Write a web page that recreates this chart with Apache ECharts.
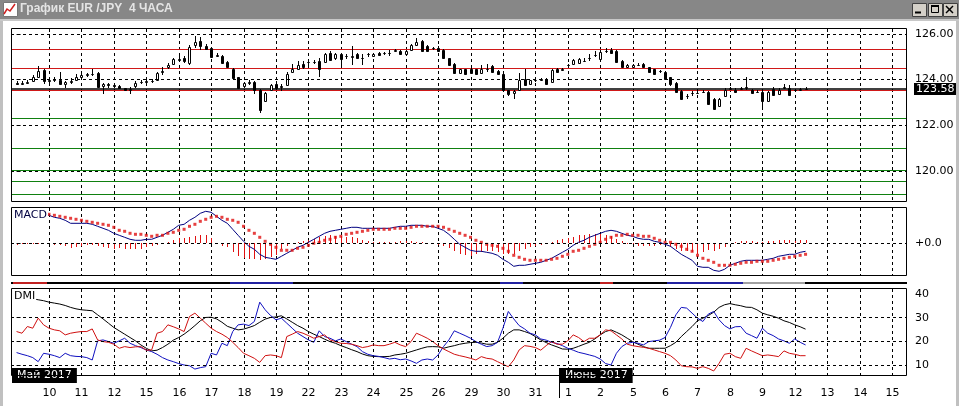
<!DOCTYPE html>
<html><head><meta charset="utf-8">
<script src="https://cdn.jsdelivr.net/npm/echarts@6/dist/echarts.min.js"></script>
<style>html,body{margin:0;padding:0;background:#fff;overflow:hidden}#c{width:959px;height:406px}</style>
</head><body><div id="c"></div>
<script>
// ---------- data ----------
const dayLabels = ['10','11','12','15','16','17','18','19','22','23','24','25','26','29','30','31','1','2','5','6','7','8','9','12','13','14','15'];
const dayStartIdx = [6,12,18,24,30,36,42,48,54,60,66,72,78,84,90,96,102,108,114,120,126,132,138,144,150,156,162];
const monthLabels = ['Май 2017','Июнь 2017'];
const monthIdx = [-0.85, 100.4];

const open = [123.84,123.82,123.86,123.95,124.12,124.42, 123.95,123.98,124.00,123.82,123.90,123.96, 124.12,124.20,124.22,124.30,123.70,123.80, 123.75,123.72,123.62,123.56,123.70,123.88, 123.90,123.92,123.97,124.32,124.55,124.70, 124.87,124.92,124.72,125.50,125.68,125.45, 125.36,125.05,125.02,124.78,124.48,124.10, 123.70,123.86,123.90,123.56,123.06,123.56, 123.82,123.66,123.75,124.35,124.48,124.70, 124.75,124.75,124.82,124.78,125.14,124.92, 125.11,125.03,125.00,125.11,124.93,125.10, 125.03,125.17,125.14,125.17,125.26,125.26, 125.11,125.30,125.51,125.70,125.45,125.36, 125.40,125.29,124.92,124.70,124.29,124.44, 124.48,124.44,124.29,124.44,124.59,124.38, 124.26,123.53,123.40,123.56,124.04,123.80, 123.97,124.00,124.04,123.90,124.48,124.42, 124.62,124.70,124.73,124.82,124.92,125.07, 124.88,125.23,125.28,125.26,124.82,124.56, 124.56,124.63,124.70,124.53,124.44,124.38, 124.34,124.09,123.85,123.50,123.27,123.41, 123.41,123.46,123.46,123.16,122.83,123.27, 123.60,123.56,123.60,123.65,123.53,123.46, 123.46,123.06,123.60,123.38,123.65,123.65, 123.53,123.56,123.58];
const close = [123.82,123.86,123.90,124.10,124.38,123.95, 123.98,124.00,123.80,123.88,123.95,124.12, 124.20,124.22,124.25,123.68,123.80,123.75, 123.72,123.63,123.55,123.60,123.86,123.90, 123.92,123.94,124.30,124.38,124.62,124.88, 124.88,124.80,125.43,125.65,125.47,125.35, 125.00,125.08,124.73,124.53,124.05,123.65, 123.85,123.88,123.56,122.66,123.41,123.75, 123.65,123.70,124.26,124.44,124.63,124.53, 124.78,124.76,124.48,125.11,124.85,125.11, 124.88,125.04,125.05,124.92,124.92,125.11, 125.11,125.07,125.15,125.18,125.27,125.11, 125.26,125.50,125.66,125.26,125.26,125.37, 125.26,124.92,124.63,124.29,124.44,124.26, 124.29,124.26,124.48,124.45,124.34,124.23, 123.56,123.38,123.48,124.00,123.75,123.97, 123.98,124.01,123.82,124.41,124.34,124.45, 124.63,124.85,124.88,124.83,124.93,125.08, 125.22,125.26,125.18,124.78,124.53,124.63, 124.63,124.64,124.56,124.34,124.26,124.39, 124.04,123.80,123.46,123.16,123.28,123.42, 123.42,123.47,122.92,122.73,123.16,123.56, 123.61,123.46,123.61,123.66,123.41,123.47, 123.06,123.46,123.31,123.56,123.66,123.31, 123.54,123.57,123.58];
const low = [123.75,123.76,123.80,123.92,124.08,123.80, 123.85,123.90,123.78,123.62,123.80,123.92, 124.08,124.12,124.15,123.62,123.35,123.65, 123.62,123.58,123.48,123.35,123.62,123.82, 123.84,123.85,123.92,124.20,124.48,124.65, 124.80,124.72,124.65,125.40,125.28,125.30, 124.95,124.98,124.70,124.50,124.00,123.60, 123.65,123.78,123.38,122.52,123.00,123.50, 123.55,123.50,123.70,124.28,124.40,124.45, 124.65,124.68,124.12,124.75,124.80,124.85, 124.60,124.90,124.65,124.88,124.65,125.00, 124.98,125.02,125.06,125.05,125.20,125.08, 125.08,125.28,125.48,125.24,125.22,125.28, 125.20,124.90,124.60,124.25,124.25,124.22, 124.26,124.24,124.26,124.35,124.30,124.20, 123.54,123.30,123.16,123.50,123.70,123.76, 123.90,123.92,123.78,123.85,124.28,124.36, 124.56,124.66,124.70,124.75,124.80,125.00, 124.85,125.18,125.12,124.74,124.50,124.52, 124.52,124.58,124.52,124.30,124.22,124.30, 124.00,123.70,123.40,123.10,123.15,123.30, 123.35,123.40,122.88,122.68,122.80,123.22, 123.52,123.40,123.55,123.55,123.38,123.40, 122.68,123.02,123.28,123.34,123.58,123.28, 123.46,123.50,123.55];
const high = [123.92,123.95,124.00,124.18,124.58,124.48, 124.05,124.12,124.35,123.95,124.05,124.25, 124.28,124.30,124.44,124.33,123.85,123.85, 123.82,123.76,123.65,123.68,123.92,123.98, 124.00,124.02,124.35,124.55,124.72,124.95, 125.05,125.02,125.50,125.90,125.85,125.55, 125.40,125.15,125.06,124.82,124.52,124.12, 123.90,123.98,123.95,123.60,123.45,123.82, 123.95,123.80,124.32,124.70,124.80,124.80, 124.90,124.85,124.92,125.15,125.25,125.16, 125.14,125.10,125.48,125.15,125.10,125.18, 125.14,125.22,125.22,125.30,125.35,125.30, 125.30,125.55,125.82,125.72,125.50,125.42, 125.45,125.32,124.95,124.72,124.48,124.48, 124.50,124.46,124.62,124.70,124.62,124.40, 124.28,123.56,123.52,124.30,124.45,124.00, 124.05,124.06,124.08,124.46,124.52,124.52, 124.68,124.90,124.95,124.92,125.11,125.25, 125.30,125.36,125.36,125.30,124.85,124.66, 124.66,124.72,124.74,124.56,124.48,124.42, 124.38,124.12,123.88,123.55,123.35,123.48, 123.60,123.52,123.50,123.20,123.20,123.62, 123.68,123.62,123.68,124.12,123.60,123.52, 123.52,123.50,123.66,123.62,123.82,123.78, 123.60,123.62,123.66];

const priceTicks = [120, 122, 124, 126];
const redLevels = [125.32, 124.48, 123.53];
const greenLevels = [122.29, 120.98, 120.02, 119.55, 118.97];
const bidPrice = 123.58;

const macdMain = [0.30,0.30,0.30,0.29,0.29,0.29, 0.28,0.26,0.25,0.23,0.20,0.20, 0.20,0.20,0.19,0.17,0.15,0.13, 0.10,0.08,0.06,0.04,0.03,0.03, 0.04,0.04,0.06,0.08,0.11,0.14, 0.18,0.19,0.23,0.26,0.30,0.32, 0.31,0.27,0.23,0.20,0.14,0.08, 0.02,-0.03,-0.06,-0.11,-0.14,-0.15, -0.16,-0.13,-0.10,-0.07,-0.04,-0.02, 0.01,0.04,0.07,0.10,0.12,0.13, 0.14,0.15,0.16,0.16,0.15,0.15, 0.15,0.15,0.15,0.15,0.16,0.17, 0.17,0.18,0.18,0.18,0.17,0.17, 0.15,0.13,0.09,0.04,-0.01,-0.04, -0.07,-0.08,-0.08,-0.09,-0.10,-0.12, -0.16,-0.19,-0.23,-0.22,-0.22,-0.21, -0.20,-0.19,-0.17,-0.15,-0.12,-0.09, -0.06,-0.02,0.01,0.03,0.06,0.08, 0.10,0.12,0.13,0.12,0.10,0.08, 0.07,0.05,0.04,0.04,0.02,0.01, -0.01,-0.03,-0.07,-0.11,-0.14,-0.17, -0.23,-0.24,-0.24,-0.27,-0.28,-0.26, -0.22,-0.20,-0.18,-0.17,-0.17,-0.17, -0.17,-0.16,-0.15,-0.13,-0.12,-0.11, -0.11,-0.09,-0.08];
const macdSignal = [0.32,0.31,0.31,0.30,0.30,0.29, 0.29,0.28,0.27,0.26,0.25,0.24, 0.23,0.22,0.21,0.20,0.19,0.18, 0.16,0.13,0.12,0.10,0.09,0.09, 0.08,0.07,0.08,0.08,0.10,0.11, 0.13,0.14,0.17,0.19,0.22,0.24, 0.26,0.27,0.26,0.24,0.23,0.21, 0.17,0.13,0.10,0.06,0.02,-0.01, -0.04,-0.07,-0.07,-0.07,-0.05,-0.04, -0.02,0.00,0.01,0.03,0.04,0.06, 0.07,0.09,0.10,0.11,0.12,0.13, 0.14,0.14,0.14,0.14,0.15,0.15, 0.15,0.16,0.17,0.17,0.17,0.17, 0.17,0.16,0.14,0.12,0.10,0.08, 0.06,0.03,0.01,-0.01,-0.02,-0.03, -0.05,-0.08,-0.12,-0.14,-0.16,-0.17, -0.17,-0.17,-0.17,-0.16,-0.15,-0.13, -0.11,-0.08,-0.07,-0.05,-0.03,-0.01, 0.01,0.04,0.06,0.08,0.08,0.09, 0.08,0.08,0.07,0.07,0.05,0.03, 0.01,0.01,-0.01,-0.03,-0.06,-0.08, -0.12,-0.15,-0.17,-0.19,-0.22,-0.22, -0.22,-0.21,-0.20,-0.19,-0.19,-0.18, -0.18,-0.18,-0.17,-0.16,-0.15,-0.14, -0.13,-0.12,-0.11];
const macdHist = [-0.02,-0.01,-0.01,-0.01,-0.01,0.00, -0.01,-0.02,-0.02,-0.03,-0.05,-0.04, -0.03,-0.02,-0.02,-0.03,-0.04,-0.05, -0.06,-0.05,-0.06,-0.06,-0.06,-0.06, -0.04,-0.03,-0.02,0.00,0.01,0.03, 0.05,0.05,0.06,0.07,0.08,0.08, 0.05,0.00,-0.03,-0.04,-0.09,-0.13, -0.15,-0.16,-0.16,-0.17,-0.16,-0.14, -0.12,-0.06,-0.03,0.00,0.01,0.02, 0.03,0.04,0.06,0.07,0.08,0.07, 0.07,0.06,0.06,0.05,0.03,0.02, 0.01,0.01,0.01,0.01,0.01,0.02, 0.02,0.02,0.01,0.01,0.00,0.00, -0.02,-0.03,-0.05,-0.08,-0.11,-0.12, -0.13,-0.11,-0.09,-0.08,-0.08,-0.09, -0.11,-0.11,-0.11,-0.08,-0.06,-0.04, -0.03,-0.02,0.00,0.01,0.03,0.04, 0.05,0.06,0.08,0.08,0.09,0.09, 0.09,0.08,0.07,0.04,0.02,-0.01, -0.01,-0.03,-0.03,-0.03,-0.03,-0.02, -0.02,-0.04,-0.06,-0.08,-0.08,-0.09, -0.11,-0.09,-0.07,-0.08,-0.06,-0.04, 0.00,0.01,0.02,0.02,0.02,0.01, 0.01,0.02,0.02,0.03,0.03,0.03, 0.02,0.03,0.03];
const macdTicks = [0];

const adx = [38.9,38.6,38.2,37.9,37.5,37.1, 36.5,36.1,35.7,35.1,34.3,33.7, 33.3,33.1,32.9,31.2,29.5,27.7, 25.9,24.5,23.1,21.7,20.3,18.6, 17.2,16.1,16.4,17.5,18.9,20.6, 21.7,23.1,24.8,26.7,28.7,30.1, 30.2,29.5,28.1,26.4,25.6,24.9, 25.2,25.9,26.7,28.1,29.4,30.1, 30.3,30.8,29.5,28.1,26.7,25.6, 24.2,23.1,22.1,21.0,20.0,19.3, 18.3,17.5,16.6,15.8,14.8,14.1, 13.8,13.7,13.7,13.8,14.4,14.7, 15.1,15.8,16.5,17.2,17.8,17.9, 17.8,17.2,17.8,18.3,18.9,19.3, 19.6,19.7,19.4,18.9,18.9,19.7, 21.4,23.5,24.9,24.9,24.2,23.4, 22.1,20.7,19.6,18.6,17.8,16.9, 16.8,17.2,18.0,18.9,19.7,21.1, 22.8,24.2,24.9,23.9,22.8,21.4, 20.0,18.9,17.9,17.2,17.2,17.2, 17.2,18.3,19.7,22.1,24.2,26.3, 28.7,29.8,30.9,32.3,34.3,35.4, 35.9,35.4,35.0,34.4,34.3,33.3, 31.9,31.2,30.6,29.8,28.7,28.0, 27.0,26.2,25.2];
const plusDI = [15.4,14.7,14.1,13.3,11.6,15.1, 14.7,14.1,13.3,15.1,14.1,13.8, 13.7,13.3,12.3,20.3,20.7,20.0, 19.3,20.3,21.4,19.3,18.3,17.5, 16.5,15.8,14.7,13.3,12.3,11.6, 10.8,10.2,9.9,8.5,9.1,9.5, 15.1,14.4,19.3,18.3,24.2,27.0, 27.3,26.7,28.4,36.5,33.3,30.9, 29.1,29.8,27.7,25.6,23.5,22.1, 20.7,19.7,24.5,22.1,21.4,20.3, 21.1,20.0,18.9,17.9,15.8,14.7, 14.1,13.8,13.3,12.7,13.0,12.4, 12.7,11.9,10.9,12.3,12.7,12.3, 14.4,17.9,20.7,24.5,23.5,22.5, 21.4,20.0,18.9,17.9,18.3,19.7, 25.6,32.6,29.5,26.7,25.3,23.5, 22.8,21.1,20.6,19.7,19.2,18.3, 17.2,16.4,15.5,15.0,14.4,13.8, 12.7,10.8,10.2,15.1,17.9,19.3, 19.7,19.3,18.6,20.0,20.3,20.6, 21.7,25.9,31.2,34.3,34.0,31.9, 29.8,28.4,31.5,32.6,29.1,26.7, 25.3,26.2,26.3,23.5,22.5,21.4, 25.6,23.5,22.5,21.1,20.3,19.3, 21.1,19.7,18.6];
const minusDI = [24.2,23.5,26.3,25.6,29.8,27.0, 25.6,24.9,24.5,22.8,23.5,23.9, 24.2,24.2,25.3,20.7,20.0,19.7, 18.9,17.2,17.9,17.5,17.8,17.9, 16.4,16.5,23.5,24.2,27.0,26.2, 25.3,24.2,30.5,31.9,29.8,27.7, 25.6,24.2,23.1,21.7,19.7,17.5, 15.1,14.1,13.0,11.3,14.1,14.4, 14.1,13.3,22.1,23.1,24.2,23.5, 22.5,21.4,22.1,22.8,20.7,20.0, 19.3,19.2,18.9,18.3,17.5,17.9, 18.6,18.3,18.3,18.9,19.7,18.6, 17.9,20.0,23.5,22.5,21.4,20.0, 18.3,16.9,15.8,14.7,14.1,13.6, 13.0,12.3,13.7,13.0,12.7,11.6, 10.5,9.5,12.3,16.5,18.3,18.0, 17.5,16.4,18.3,20.0,18.9,18.9, 20.3,22.8,21.7,20.0,21.4,21.4, 22.8,24.9,24.5,22.8,21.1,18.9, 18.3,17.9,17.6,17.2,16.5,15.8, 15.1,14.1,12.3,9.9,9.5,9.4, 8.8,9.5,8.8,7.7,10.9,14.7, 15.1,13.7,13.0,17.2,16.1,15.1, 14.1,14.4,14.1,13.7,16.1,15.1, 14.7,14.1,14.1];
const dmiTicks = [10, 20, 30, 40];
const dmiGridLines = [10, 20, 30];

// ---------- chart ----------
const FONT = '"DejaVu Sans", sans-serif';
const XMIN = -1.03, XMAX = 164.77;
const chart = echarts.init(document.getElementById('c'), null, {renderer: 'canvas'});

function vgrid(params, api) {
  const p = api.coord([api.value(0), 0]);
  const x = Math.round(p[0]) + 0.5;
  const cs = params.coordSys;
  return {type: 'line', shape: {x1: x, y1: cs.y, x2: x, y2: cs.y + cs.height},
    style: {stroke: '#000', lineWidth: 1, lineDash: [3, 3]}};
}
function candle(params, api) {
  const i = api.value(0), o = api.value(1), c = api.value(2), l = api.value(3), h = api.value(4);
  const pO = api.coord([i, o]), pC = api.coord([i, c]), pL = api.coord([i, l]), pH = api.coord([i, h]);
  const cx = Math.round(pO[0]);
  const top = Math.round(Math.min(pO[1], pC[1])), bot = Math.round(Math.max(pO[1], pC[1]));
  const up = c >= o;
  return {type: 'group', children: [
    {type: 'line', shape: {x1: cx + 0.5, y1: Math.round(pH[1]), x2: cx + 0.5, y2: Math.round(pL[1])}, style: {stroke: '#000', lineWidth: 1}},
    {type: 'rect', shape: {x: cx - 0.5, y: top + 0.5, width: 2, height: Math.max(bot - top, 0)}, style: {fill: up ? '#fff' : '#000', stroke: '#000', lineWidth: 1}}
  ]};
}
function hist(params, api) {
  const p0 = api.coord([api.value(0), 0]), p1 = api.coord([api.value(0), api.value(1)]);
  const x = Math.round(p0[0]) + 0.5;
  return {type: 'line', shape: {x1: x, y1: Math.round(p0[1]), x2: x, y2: Math.round(p1[1])}, style: {stroke: '#e01010', lineWidth: 1}};
}
function dayLabel(params, api) {
  const p = api.coord([api.value(0), 20]);
  const cs = params.coordSys;
  return {type: 'text', x: Math.round(p[0]) + 0.5, y: cs.y + cs.height + 17,
    style: {text: dayLabels[params.dataIndex], textAlign: 'center', textVerticalAlign: 'middle', fill: '#000', font: '11px ' + FONT}};
}
function monthLabel(params, api) {
  const p = api.coord([api.value(0), 20]);
  const cs = params.coordSys;
  const x0 = Math.round(p[0]);
  const yb = cs.y + cs.height - 8;
  const children = [
    {type: 'text', x: x0 + (params.dataIndex ? 1 : 0), y: yb, z2: 10,
      style: {text: monthLabels[params.dataIndex], textAlign: 'left', textVerticalAlign: 'top', fill: '#fff',
        font: '11px ' + FONT, backgroundColor: '#000', padding: [2, 5, 2, 5]}}
  ];
  if (params.dataIndex > 0) {
    children.push({type: 'line', shape: {x1: x0 + 0.5, y1: yb, x2: x0 + 0.5, y2: yb + 30}, style: {stroke: '#000', lineWidth: 1}});
  }
  return {type: 'group', children: children};
}

const gridBox = [
  {left: 11, top: 29, width: 896, height: 173},
  {left: 11, top: 208, width: 896, height: 68},
  {left: 11, top: 289, width: 896, height: 87}
];
const dashed = {color: '#000', width: 1, type: [3, 3]};
function hLines(vals) {
  return {silent: true, symbol: ['none', 'none'], animation: false, label: {show: false},
    lineStyle: dashed, data: vals.map(v => ({yAxis: v}))};
}
const axisLabelBase = {color: '#000', fontFamily: FONT, fontSize: 11, margin: 8};

const option = {
  animation: false,
  backgroundColor: '#fff',
  grid: gridBox.map(g => Object.assign({show: false, containLabel: false}, g)),
  xAxis: [0, 1, 2].map(k => ({type: 'value', gridIndex: k, min: XMIN, max: XMAX, show: false})),
  yAxis: [
    {type: 'value', gridIndex: 0, min: 118.64, max: 126.21, position: 'right', axisLine: {show: false}, splitLine: {show: false},
      axisTick: {show: true, customValues: priceTicks, length: 4, lineStyle: {color: '#000'}},
      axisLabel: Object.assign({customValues: priceTicks, formatter: v => Number(v).toFixed(2)}, axisLabelBase)},
    {type: 'value', gridIndex: 1, min: -0.327, max: 0.353, position: 'right', axisLine: {show: false}, splitLine: {show: false},
      axisTick: {show: true, customValues: macdTicks, length: 4, lineStyle: {color: '#000'}},
      axisLabel: Object.assign({customValues: macdTicks, formatter: () => '+0.0'}, axisLabelBase)},
    {type: 'value', gridIndex: 2, min: 5.6, max: 42.0, position: 'right', axisLine: {show: false}, splitLine: {show: false},
      axisTick: {show: true, customValues: dmiTicks, length: 4, lineStyle: {color: '#000'}},
      axisLabel: Object.assign({customValues: dmiTicks, formatter: v => String(v)}, axisLabelBase)}
  ],
  series: [
    {type: 'custom', xAxisIndex: 0, yAxisIndex: 0, renderItem: vgrid, data: dayStartIdx.map(i => [i]), silent: true, z: 1,
      markLine: hLines(priceTicks)},
    {type: 'custom', xAxisIndex: 1, yAxisIndex: 1, renderItem: vgrid, data: dayStartIdx.map(i => [i]), silent: true, z: 1,
      markLine: hLines(macdTicks)},
    {type: 'custom', xAxisIndex: 2, yAxisIndex: 2, renderItem: vgrid, data: dayStartIdx.map(i => [i]), silent: true, z: 1,
      markLine: hLines(dmiGridLines)},
    {type: 'custom', name: 'EURJPY', xAxisIndex: 0, yAxisIndex: 0, renderItem: candle, z: 3,
      data: open.map((o, i) => [i, o, close[i], low[i], high[i]]),
      markLine: {silent: true, symbol: ['none', 'none'], animation: false, z: 2, label: {show: false},
        data: redLevels.map(v => ({yAxis: v, lineStyle: {color: '#d01818', width: 1, type: 'solid'}}))
          .concat(greenLevels.map(v => ({yAxis: v, lineStyle: {color: '#0f800f', width: 1, type: 'solid'}})))
          .concat([{yAxis: bidPrice, lineStyle: {color: '#000', width: 1.5, type: 'solid'},
            label: {show: true, position: 'end', distance: 7, formatter: bidPrice.toFixed(2), color: '#fff', backgroundColor: '#000',
              fontFamily: FONT, fontSize: 11, padding: [1, 2, 0, 2]}}])}},
    {type: 'custom', name: 'hist', xAxisIndex: 1, yAxisIndex: 1, renderItem: hist, z: 2,
      data: macdHist.map((v, i) => [i, v])},
    {type: 'line', name: 'MACD', xAxisIndex: 1, yAxisIndex: 1, symbol: 'none', z: 3,
      lineStyle: {color: '#000080', width: 1}, data: macdMain.map((v, i) => [i, v])},
    {type: 'scatter', name: 'Signal', xAxisIndex: 1, yAxisIndex: 1, symbol: 'rect', symbolSize: [3, 3], z: 4,
      itemStyle: {color: '#e01010'}, data: macdSignal.map((v, i) => [i, v])},
    {type: 'line', name: 'ADX', xAxisIndex: 2, yAxisIndex: 2, symbol: 'none', z: 3,
      lineStyle: {color: '#000', width: 1}, data: adx.map((v, i) => [i, v])},
    {type: 'line', name: '+DI', xAxisIndex: 2, yAxisIndex: 2, symbol: 'none', z: 3,
      lineStyle: {color: '#1010c0', width: 1}, data: plusDI.map((v, i) => [i, v])},
    {type: 'line', name: '-DI', xAxisIndex: 2, yAxisIndex: 2, symbol: 'none', z: 3,
      lineStyle: {color: '#d01010', width: 1}, data: minusDI.map((v, i) => [i, v])},
    {type: 'custom', xAxisIndex: 2, yAxisIndex: 2, renderItem: dayLabel, silent: true, clip: false, z: 5,
      data: dayStartIdx.map(i => [i])},
    {type: 'custom', xAxisIndex: 2, yAxisIndex: 2, renderItem: monthLabel, silent: true, clip: false, z: 20,
      data: monthIdx.map(i => [i])}
  ],
  graphic: [
    // title bar
    {type: 'rect', left: 0, top: 0, shape: {width: 959, height: 19}, z: 100, style: {fill: '#878787'}},
    {type: 'rect', left: 0, top: 19, shape: {width: 959, height: 2}, z: 100, style: {fill: '#c8c8c8'}},
    {type: 'rect', left: 3, top: 2, shape: {width: 14, height: 14}, z: 101, style: {fill: '#fff', stroke: '#777', lineWidth: 1}},
    {type: 'polyline', z: 102, shape: {points: [[4, 14], [7, 9], [10, 11], [15, 4]]}, style: {stroke: '#d02020', lineWidth: 1.5, fill: null}},
    {type: 'text', left: 20, top: 3, z: 101, style: {text: 'График EUR /JPY  4 ЧАСА', fill: '#e4e4e4', font: 'bold 12px "Liberation Sans", sans-serif'}},
    {type: 'rect', left: 912, top: 3, shape: {width: 14, height: 13}, z: 101, style: {fill: '#d4d0c8', stroke: '#404040', lineWidth: 1}},
    {type: 'rect', left: 928, top: 3, shape: {width: 14, height: 13}, z: 101, style: {fill: '#d4d0c8', stroke: '#404040', lineWidth: 1}},
    {type: 'rect', left: 943, top: 3, shape: {width: 14, height: 13}, z: 101, style: {fill: '#d4d0c8', stroke: '#404040', lineWidth: 1}},
    {type: 'line', z: 102, shape: {x1: 915, y1: 12.5, x2: 921, y2: 12.5}, style: {stroke: '#000', lineWidth: 2}},
    {type: 'rect', z: 102, shape: {x: 931.5, y: 5.5, width: 7, height: 7}, style: {fill: null, stroke: '#000', lineWidth: 1}},
    {type: 'line', z: 102, shape: {x1: 931, y1: 6, x2: 939, y2: 6}, style: {stroke: '#000', lineWidth: 2}},
    {type: 'line', z: 102, shape: {x1: 946, y1: 6, x2: 953, y2: 13}, style: {stroke: '#000', lineWidth: 1.5}},
    {type: 'line', z: 102, shape: {x1: 953, y1: 6, x2: 946, y2: 13}, style: {stroke: '#000', lineWidth: 1.5}},
    // window frame
    {type: 'rect', left: 0, top: 21, shape: {width: 3, height: 385}, z: 100, style: {fill: '#c0c0c0'}},
    {type: 'rect', left: 956, top: 21, shape: {width: 3, height: 385}, z: 100, style: {fill: '#c0c0c0'}},
    // panel borders
    {type: 'rect', z: 50, shape: {x: 11.5, y: 28.5, width: 895, height: 173}, style: {fill: null, stroke: '#000', lineWidth: 1}},
    {type: 'rect', z: 50, shape: {x: 11.5, y: 207.5, width: 895, height: 68}, style: {fill: null, stroke: '#000', lineWidth: 1}},
    {type: 'rect', z: 50, shape: {x: 11.5, y: 288.5, width: 895, height: 87}, style: {fill: null, stroke: '#000', lineWidth: 1}},
    // collapsed indicator strip
    {type: 'rect', z: 50, shape: {x: 11, y: 282, width: 896, height: 2}, style: {fill: '#000'}},
    {type: 'rect', z: 51, shape: {x: 13, y: 282, width: 34, height: 2}, style: {fill: '#c02020'}},
    {type: 'rect', z: 51, shape: {x: 230, y: 282, width: 63, height: 2}, style: {fill: '#2020a0'}},
    {type: 'rect', z: 51, shape: {x: 500, y: 282, width: 23, height: 2}, style: {fill: '#2020a0'}},
    {type: 'rect', z: 51, shape: {x: 600, y: 282, width: 13, height: 2}, style: {fill: '#c02020'}},
    {type: 'rect', z: 51, shape: {x: 667, y: 282, width: 76, height: 2}, style: {fill: '#2020a0'}},
    {type: 'rect', z: 51, shape: {x: 743, y: 282, width: 62, height: 2}, style: {fill: '#a0a0a0'}},
    // indicator titles
    {type: 'text', left: 13, top: 209, z: 60, style: {text: 'MACD', fill: '#000040', font: '11px ' + FONT, backgroundColor: '#fff', padding: [1, 1, 1, 1]}},
    {type: 'text', left: 13, top: 290, z: 60, style: {text: 'DMI', fill: '#000', font: '11px ' + FONT, backgroundColor: '#fff', padding: [1, 1, 1, 1]}}
  ]
};
chart.setOption(option);
</script>
</body></html>
